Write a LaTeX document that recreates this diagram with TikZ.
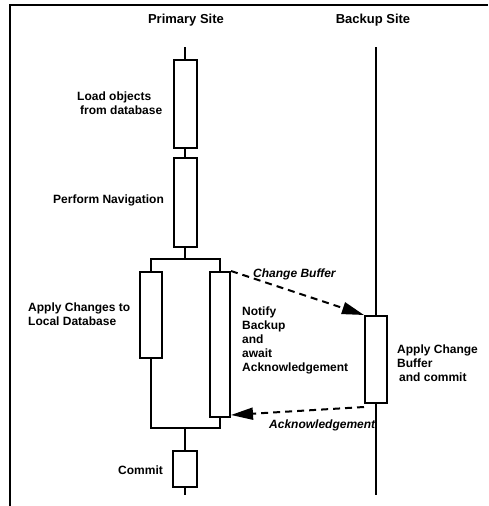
\documentclass[tikz,border=0pt]{standalone}
\usepackage{fontspec}
\setmainfont{Liberation Sans}
\usetikzlibrary{arrows.meta}

\tikzset{
    actbox/.style={rectangle, draw, line width=2pt, minimum width=23pt, inner sep=0pt},
    lbl/.style={inner sep=0pt, anchor=west, align=left, font=\fontsize{12}{14}\selectfont\bfseries},
    msglbl/.style={inner sep=0pt, anchor=west, font=\fontsize{12}{14}\selectfont\bfseries\itshape},
    sitelbl/.style={inner sep=0pt, font=\fontsize{13}{15}\selectfont\bfseries},
    life/.style={line width=2pt},
    msg/.style={line width=2pt, dash pattern=on 7pt off 5pt, -{Triangle[length=22pt,width=12pt]}}
}

\begin{document}
\begin{tikzpicture}[x=1pt, y=-1pt]
\useasboundingbox (0,0) rectangle (488,506);

% ===== Frame =====
\draw[line width=2.6pt] (10,506) -- (10,5) -- (488,5);

% ===== Site headings =====
\node[sitelbl] (primary) at (186,20) {Primary Site};
\node[sitelbl] (backup)  at (373,20) {Backup Site};

% ===== Primary site =====
\coordinate (ptop) at (185,47);
\node[actbox, minimum height=88pt] (load)   at (185,104)   {};
\node[actbox, minimum height=89pt] (nav)    at (185,202.5) {};
\coordinate (fork) at (185,259);
\node[actbox, minimum width=22pt, minimum height=86pt]  (apply)  at (151,315)   {};
\node[actbox, minimum width=20pt, minimum height=145pt] (notify) at (220,344.5) {};
\coordinate (join) at (185,428);
\node[actbox, minimum width=24pt, minimum height=36pt] (commit) at (185,469) {};
\coordinate (pbot) at (185,495);

\draw[life] (ptop) -- (load.north);
\draw[life] (load.south) -- (nav.north);
\draw[life] (nav.south) -- (fork);
\draw[life] (apply.north) -- (apply.north |- fork) -- (notify.north |- fork) -- (notify.north);
\draw[life] (apply.south) -- (apply.south |- join) -- (notify.south |- join) -- (notify.south);
\draw[life] (join) -- (commit.north);
\draw[life] (commit.south) -- (pbot);

\node[lbl] (loadtxt)   at (77,103)  {Load objects\\\hspace*{3pt}from database};
\node[lbl] (navtxt)    at (53,200)  {Perform Navigation};
\node[lbl] (applytxt)  at (28,314)  {Apply Changes to\\Local Database};
\node[lbl] (notifytxt) at (242,340.5) {Notify\\Backup\\and\\await\\Acknowledgement};
\node[lbl] (committxt) at (118,470) {Commit};

% ===== Backup site =====
\coordinate (btop) at (376,47);
\node[actbox, minimum width=22pt, minimum height=87pt] (bapply) at (376,359.5) {};
\coordinate (bbot) at (376,495);

\draw[life] (btop) -- (bapply.north);
\draw[life] (bapply.south) -- (bbot);

\node[lbl] (bapplytxt) at (397,363) {Apply Change\\Buffer\\\hspace*{2pt}and commit};

% ===== Messages =====
\draw[msg] (notify.north east) -- (bapply.north west);
\draw[msg] ([yshift=-3pt]bapply.south west) -- ([yshift=3pt]notify.south east);

\node[msglbl] (buftxt) at (253,274) {Change Buffer};
\node[msglbl] (acktxt) at (269,425) {Acknowledgement};

\end{tikzpicture}
\end{document}
